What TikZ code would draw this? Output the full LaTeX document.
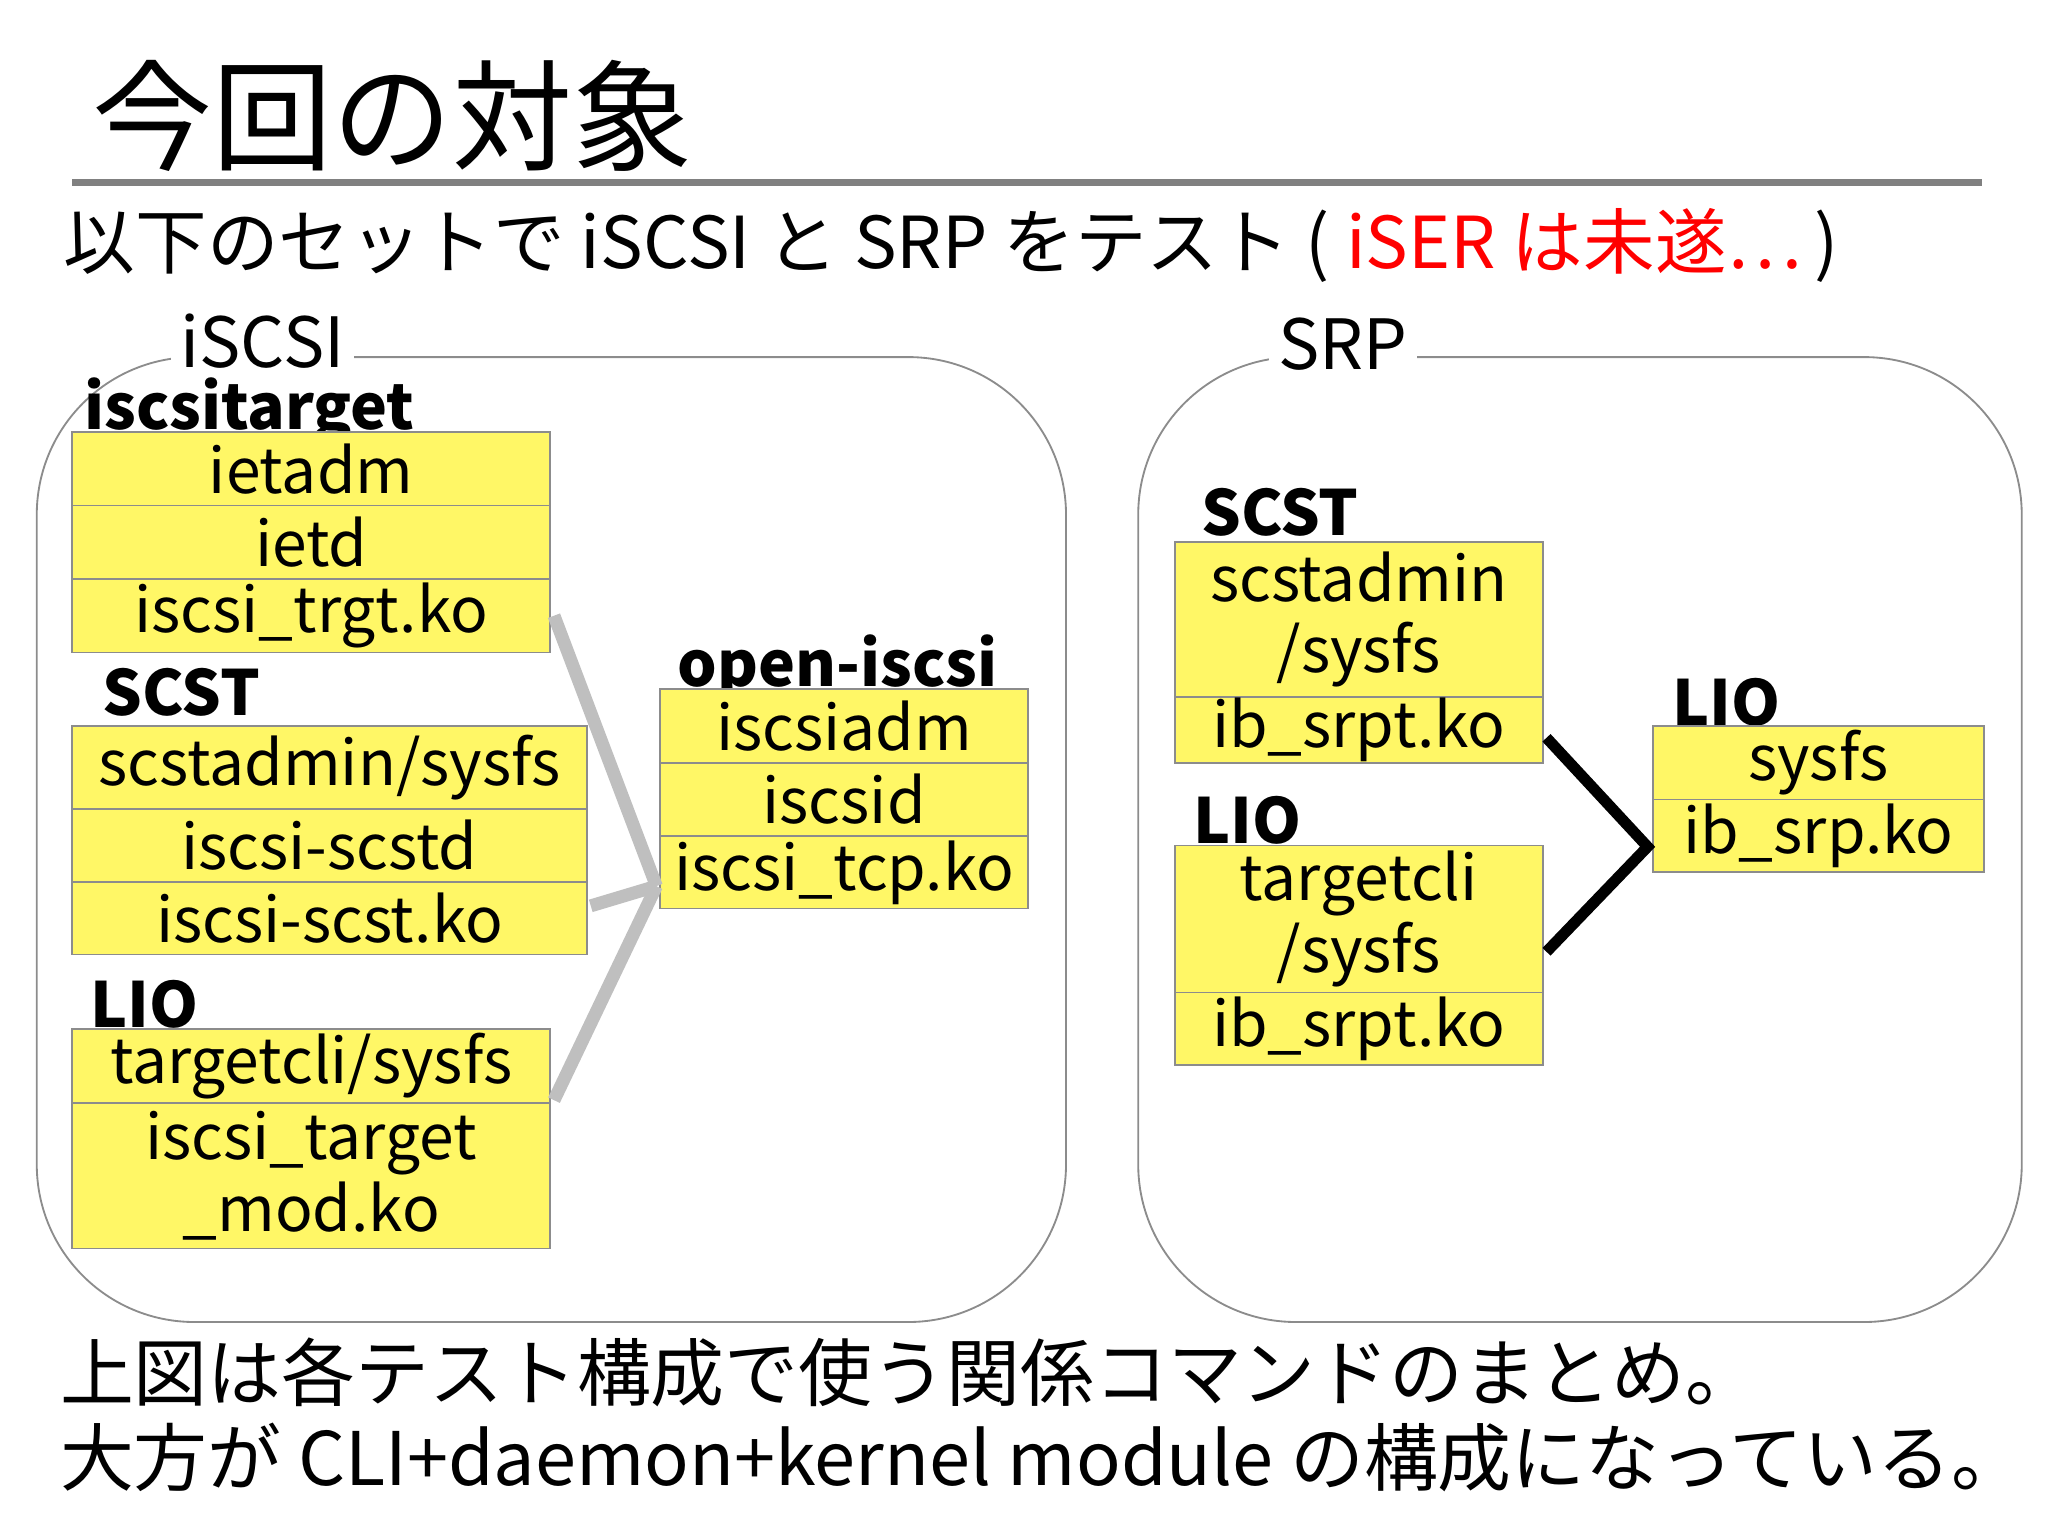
\documentclass[tikz,border=0pt]{standalone}
\usepackage{fontspec}
\setmainfont{Noto Sans CJK JP}
\newcommand{\bx}[6]{\draw[yb] (#2,#3) rectangle (#4,#5);
  \node[btxt] (#1) at ({(#2+#4)/2},{(#3+#5)/2}) {#6};}
\begin{document}
\begin{tikzpicture}[x=0.01cm,y=-0.01cm,
  yb/.style={draw=black!45,line width=0.4pt,fill=yellow!60},
  btxt/.style={inner sep=0pt,font=\fontsize{13.5}{15.5}\selectfont,align=center},
  lab/.style={font=\fontsize{13.5}{15}\selectfont\bfseries,inner sep=0pt},
  grp/.style={draw=black!45,line width=0.4pt,rounded corners=1.2cm},
  glab/.style={fill=white,font=\fontsize{15}{16}\selectfont,inner sep=2pt},
  gcon/.style={draw=black!25,line width=2.8pt},
  bcon/.style={draw=black,line width=2.4pt}]
\useasboundingbox (0,0) rectangle (1560,1170);
\node[font=\fontsize{26}{28}\selectfont,anchor=west] (title) at (58,88) {今回の対象};
\draw[black!50,line width=1.4pt] (55,139) coordinate (l1) -- (1510,139) coordinate (l2);
\node[font=\fontsize{15.5}{17}\selectfont,anchor=west,inner sep=0pt] (sub) at (48,187) {以下のセットで iSCSI と SRP をテスト ( \textcolor{red}{iSER は未遂…}\,)};
% groups
\draw[grp] (28,272) rectangle (812,1007);
\node[glab] (gl) at (200,260) {iSCSI};
\draw[grp] (867,272) rectangle (1540,1007);
\node[glab] (gr) at (1023,262) {SRP};
% left
\node[lab] (t1) at (190,313) {iscsitarget};
\bx{a1}{55}{329}{419}{385}{ietadm}
\bx{a2}{55}{385}{419}{441}{ietd}
\bx{a3}{55}{441}{419}{497}{iscsi\_trgt.ko}
\node[lab] (t2) at (138,527) {SCST};
\bx{b1}{55}{553}{447}{616}{scstadmin/sysfs}
\bx{b2}{55}{616}{447}{672}{iscsi-scstd}
\bx{b3}{55}{672}{447}{727}{iscsi-scst.ko}
\node[lab] (t3) at (110,765) {LIO};
\bx{c1}{55}{784}{419}{840}{targetcli/sysfs}
\bx{c2}{55}{840}{419}{951}{iscsi\_target\\\_mod.ko}
\node[lab] (t4) at (638,508) {open-iscsi};
\bx{d1}{503}{525}{783}{581}{iscsiadm}
\bx{d2}{503}{581}{783}{637}{iscsid}
\bx{d3}{503}{637}{783}{692}{iscsi\_tcp.ko}
\coordinate (j) at (500,675);
\draw[gcon] (a3.east -| 422,470) -- (j);
\draw[gcon] (450,690) -- (j);
\draw[gcon] (422,838) -- (j);
% right
\node[lab] (t5) at (975,390) {SCST};
\bx{e1}{895}{413}{1175}{531}{scstadmin\\/sysfs}
\bx{e2}{895}{531}{1175}{581}{ib\_srpt.ko}
\node[lab] (t6) at (950,625) {LIO};
\bx{f1}{895}{644}{1175}{756}{targetcli\\/sysfs}
\bx{f2}{895}{756}{1175}{811}{ib\_srpt.ko}
\node[lab] (t7) at (1315,535) {LIO};
\bx{g1}{1259}{553}{1511}{609}{sysfs}
\bx{g2}{1259}{609}{1511}{664}{ib\_srp.ko}
\coordinate (k) at (1255,645);
\draw[bcon] (1178,562) -- (k) -- (1178,725);
% bottom
\node[font=\fontsize{16}{18}\selectfont,anchor=west,inner sep=0pt] (bt1) at (45,1045) {上図は各テスト構成で使う関係コマンドのまとめ。};
\node[font=\fontsize{16}{18}\selectfont,anchor=west,inner sep=0pt] (bt2) at (45,1110) {大方が CLI+daemon+kernel module の構成になっている。};
\end{tikzpicture}
\end{document}
